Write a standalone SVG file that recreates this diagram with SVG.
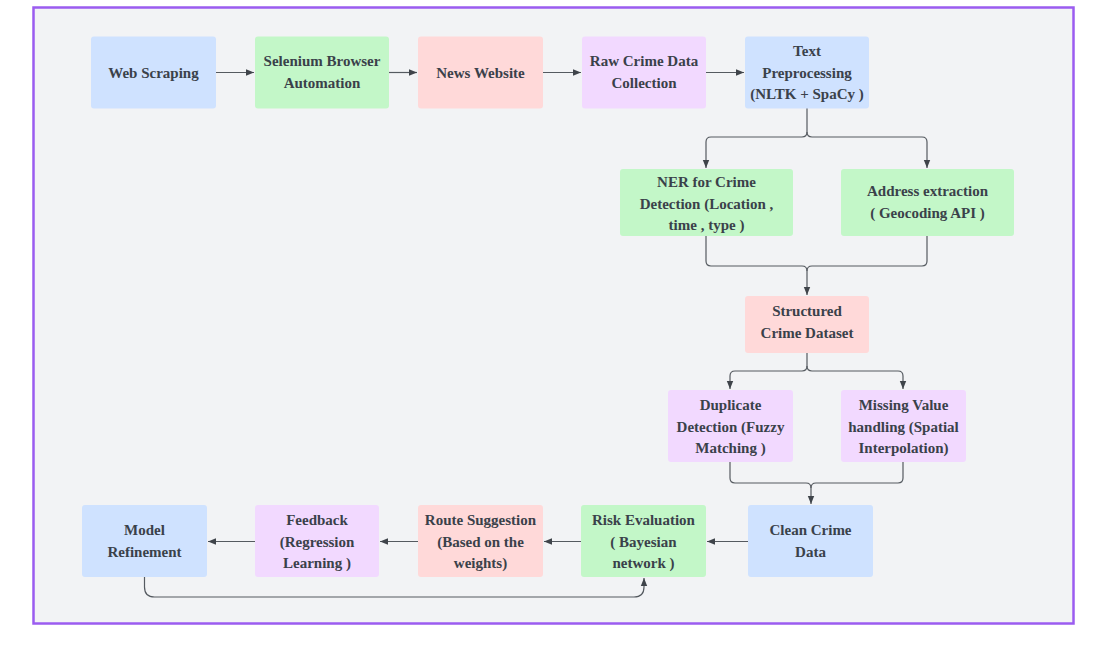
<svg xmlns="http://www.w3.org/2000/svg" width="1101" height="654" viewBox="0 0 1101 654">
<defs>
<style>
.box{stroke:none}
.blue{fill:#cfe2ff}
.green{fill:#c3f7c8}
.pink{fill:#ffd9d9}
.purple{fill:#f2d9ff}
text{font-family:"Liberation Serif","Times New Roman",serif;font-weight:bold;font-size:15px;fill:#3a414a;text-anchor:middle}
.c{fill:none;stroke:#555a60;stroke-width:1.2}
</style>
<marker id="ah" viewBox="0 0 10 10" refX="10" refY="5" markerWidth="8" markerHeight="8" markerUnits="userSpaceOnUse" orient="auto">
<path d="M0,1 L10,5 L0,9 Z" fill="#3f444a"/>
</marker>
</defs>
<rect x="0" y="0" width="1101" height="654" fill="#ffffff"/>
<rect x="33.5" y="7.5" width="1040" height="616" fill="#f2f3f5" stroke="#9b5cf0" stroke-width="2.5"/>

<g id="connectors">
<path class="c" d="M216,72.5 H254" marker-end="url(#ah)"/>
<path class="c" d="M389,72.5 H417" marker-end="url(#ah)"/>
<path class="c" d="M543,72.5 H581" marker-end="url(#ah)"/>
<path class="c" d="M706,72.5 H744" marker-end="url(#ah)"/>
<path class="c" d="M807,108 V132 Q807,137 802,137 H711 Q706,137 706,142 V168" marker-end="url(#ah)"/>
<path class="c" d="M807,132 Q807,137 812,137 H922 Q927,137 927,142 V168" marker-end="url(#ah)"/>
<path class="c" d="M706,236 V261 Q706,266 711,266 H802 Q807,266 807,271 V295" marker-end="url(#ah)"/>
<path class="c" d="M927,236 V261 Q927,266 922,266 H812 Q807,266 807,271"/>
<path class="c" d="M807,353 V366 Q807,371 802,371 H735 Q730,371 730,376 V389" marker-end="url(#ah)"/>
<path class="c" d="M807,366 Q807,371 812,371 H898 Q903,371 903,376 V389" marker-end="url(#ah)"/>
<path class="c" d="M730,462 V478 Q730,483 735,483 H806 Q811,483 811,488 V504" marker-end="url(#ah)"/>
<path class="c" d="M903,462 V478 Q903,483 898,483 H816 Q811,483 811,488"/>
<path class="c" d="M748,541.5 H707" marker-end="url(#ah)"/>
<path class="c" d="M581,541.5 H544" marker-end="url(#ah)"/>
<path class="c" d="M418,541.5 H380" marker-end="url(#ah)"/>
<path class="c" d="M255,541.5 H208" marker-end="url(#ah)"/>
<path class="c" d="M144.5,577 V587 Q144.5,597 154.5,597 H634 Q644,597 644,587 V578" marker-end="url(#ah)"/>
</g>

<g id="n-web-scraping"><rect class="box blue" x="91" y="36.5" width="125" height="72" rx="3"/><text x="153.5" y="77.5">Web Scraping</text></g>
<g id="n-selenium"><rect class="box green" x="255" y="36.5" width="134" height="72" rx="3"/><text x="322" y="66">Selenium Browser</text><text x="322" y="88">Automation</text></g>
<g id="n-news"><rect class="box pink" x="418" y="36.5" width="125" height="72" rx="3"/><text x="480.5" y="77.5">News Website</text></g>
<g id="n-raw"><rect class="box purple" x="582" y="36.5" width="124" height="72" rx="3"/><text x="644" y="66">Raw Crime Data</text><text x="644" y="88">Collection</text></g>
<g id="n-text"><rect class="box blue" x="745" y="36.5" width="124" height="72" rx="3"/><text x="807" y="56">Text</text><text x="807" y="77.5">Preprocessing</text><text x="807" y="99">(NLTK + SpaCy )</text></g>
<g id="n-ner"><rect class="box green" x="620" y="169" width="173" height="67" rx="3"/><text x="706.5" y="187">NER for Crime</text><text x="706.5" y="208.5">Detection (Location ,</text><text x="706.5" y="230">time , type )</text></g>
<g id="n-address"><rect class="box green" x="841" y="169" width="173" height="67" rx="3"/><text x="927.5" y="196">Address extraction</text><text x="927.5" y="217.5">( Geocoding API )</text></g>
<g id="n-structured"><rect class="box pink" x="745" y="296" width="124" height="57" rx="3"/><text x="807" y="316">Structured</text><text x="807" y="338">Crime Dataset</text></g>
<g id="n-duplicate"><rect class="box purple" x="668" y="390" width="125" height="72" rx="3"/><text x="730.5" y="410">Duplicate</text><text x="730.5" y="431.5">Detection (Fuzzy</text><text x="730.5" y="453">Matching )</text></g>
<g id="n-missing"><rect class="box purple" x="841" y="390" width="125" height="72" rx="3"/><text x="903.5" y="410">Missing Value</text><text x="903.5" y="431.5">handling (Spatial</text><text x="903.5" y="453">Interpolation)</text></g>
<g id="n-clean"><rect class="box blue" x="748" y="505" width="125" height="72" rx="3"/><text x="810.5" y="535">Clean Crime</text><text x="810.5" y="556.5">Data</text></g>
<g id="n-risk"><rect class="box green" x="581" y="505" width="125" height="72" rx="3"/><text x="643.5" y="525">Risk Evaluation</text><text x="643.5" y="546.5">( Bayesian</text><text x="643.5" y="568">network )</text></g>
<g id="n-route"><rect class="box pink" x="418" y="505" width="125" height="72" rx="3"/><text x="480.5" y="525">Route Suggestion</text><text x="480.5" y="546.5">(Based on the</text><text x="480.5" y="568">weights)</text></g>
<g id="n-feedback"><rect class="box purple" x="255" y="505" width="124" height="72" rx="3"/><text x="317" y="525">Feedback</text><text x="317" y="546.5">(Regression</text><text x="317" y="568">Learning )</text></g>
<g id="n-model"><rect class="box blue" x="82" y="505" width="125" height="72" rx="3"/><text x="144.5" y="535">Model</text><text x="144.5" y="556.5">Refinement</text></g>
</svg>
